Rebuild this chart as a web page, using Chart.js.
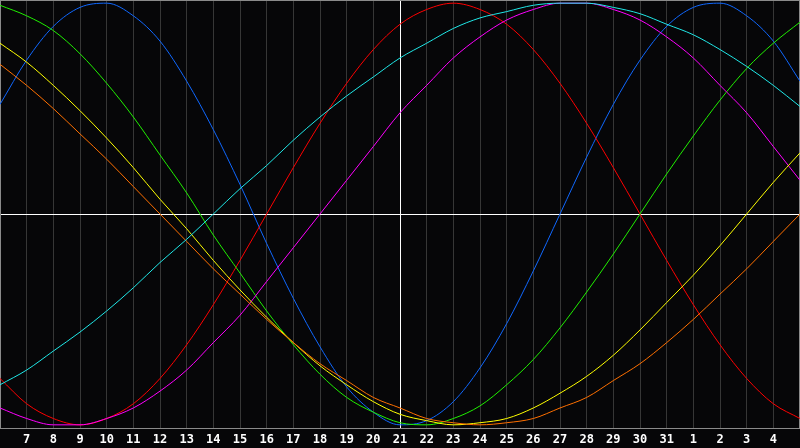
<!DOCTYPE html>
<html lang="en">
<head>
<meta name="viewport" content="width=device-width, initial-scale=1">
<title>Biorhythm</title>
<style>
html, body { margin: 0; padding: 0; background: #060608; }
#wrap { width: 800px; height: 448px; }
</style>
</head>
<body>
<div id="wrap">
<canvas id="canvas"></canvas>
</div>
<script src="https://cdn.jsdelivr.net/npm/chart.js"></script>
<script>

// days along the bottom, one per grid step (first and last are not labelled)
let DAYS = ["6", "7", "8", "9", "10", "11", "12", "13", "14", "15", "16", "17", "18", "19", "20",
            "21", "22", "23", "24", "25", "26", "27", "28", "29", "30", "31", "1", "2", "3", "4", "5"]

// cycle values in percent, one per day
let physical     = [52, 73, 89, 98, 100, 94, 82, 63, 40, 14, -14, -40, -63, -82, -94, -100, -98, -89, -73, -52, -27, 0, 27, 52, 73, 89, 98, 100, 94, 82, 63]
let emotional    = [-78, -90, -97, -100, -97, -90, -78, -62, -43, -22, 0, 22, 43, 62, 78, 90, 97, 100, 97, 90, 78, 62, 43, 22, 0, -22, -43, -62, -78, -90, -97]
let intellectual = [99, 94, 87, 76, 62, 46, 28, 10, -10, -28, -46, -62, -76, -87, -94, -99, -100, -97, -91, -81, -69, -54, -37, -19, 0, 19, 37, 54, 69, 81, 91]
let intuitive    = [-92, -97, -100, -100, -97, -92, -84, -74, -61, -48, -32, -16, 0, 16, 32, 48, 61, 74, 84, 92, 97, 100, 100, 97, 92, 84, 74, 61, 48, 32, 16]
let aesthetic    = [81, 72, 61, 49, 36, 22, 7, -7, -22, -36, -49, -61, -72, -81, -89, -95, -98, -100, -99, -97, -92, -85, -77, -67, -55, -42, -29, -15, 0, 15, 29]
let awareness    = [71, 61, 50, 38, 26, 13, 0, -13, -26, -38, -50, -61, -71, -79, -87, -92, -97, -99, -100, -99, -97, -92, -87, -79, -71, -61, -50, -38, -26, -13, 0]
let spiritual    = [-81, -74, -65, -56, -46, -35, -23, -12, 0, 12, 23, 35, 46, 56, 65, 74, 81, 88, 93, 96, 99, 100, 100, 98, 95, 90, 85, 78, 70, 61, 51]

let TODAY = 15

function series(data, color) {
    return {
        data: data,
        borderColor: color,
        borderWidth: 1,
        pointRadius: 0,
        cubicInterpolationMode: "monotone",
        fill: false,
    }
}

// gray frame round the plot
let frame = {
    id: "frame",
    beforeDatasetsDraw(chart) {
        let a = chart.chartArea
        let c = chart.ctx
        c.save()
        c.strokeStyle = "#8a8a8a"
        c.lineWidth = 1
        c.strokeRect(a.left + 0.5, a.top + 0.5, a.right - a.left - 1, a.bottom - a.top)
        c.restore()
    }
}

let ctx = document.getElementById("canvas")

let chart = new Chart(ctx, {
    type: "line",
    data: {
        labels: DAYS,
        datasets: [
            series(spiritual, "#20e8e8"),
            series(awareness, "#ff7000"),
            series(aesthetic, "#ffff00"),
            series(intuitive, "#ff00ff"),
            series(intellectual, "#20f000"),
            series(emotional, "#ff0000"),
            series(physical, "#1068ff"),
        ]
    },
    options: {
        responsive: true,
        maintainAspectRatio: false,
        animation: false,
        devicePixelRatio: 1,
        layout: { padding: 0 },
        plugins: {
            legend: { display: false },
            tooltip: { enabled: false },
        },
        scales: {
            x: {
                offset: false,
                afterFit: (s) => { s.paddingLeft = 0; s.paddingRight = 0; s.height = 20 },
                grid: {
                    drawTicks: false,
                    lineWidth: 1,
                    color: (c) => c.index === TODAY ? "#ffffff"
                        : (c.index === 0 || c.index === DAYS.length - 1) ? "rgba(0,0,0,0)" : "#363636",
                },
                border: { display: true, color: "#8a8a8a" },
                ticks: {
                    autoSkip: false,
                    maxRotation: 0,
                    padding: 5,
                    color: "#ffffff",
                    font: { family: "DejaVu Sans Mono", size: 12, weight: "bold" },
                    callback: (val, idx) => (idx === 0 || idx === DAYS.length - 1) ? "" : DAYS[idx],
                },
            },
            y: {
                min: -101.5,
                max: 101.5,
                afterFit: (s) => { s.width = 0; s.paddingTop = 0; s.paddingBottom = 0 },
                grid: {
                    drawTicks: false,
                    color: (c) => c.tick.value === 0 ? "#ffffff" : "rgba(0,0,0,0)",
                },
                border: { display: false },
                ticks: { display: false, stepSize: 50 },
            },
        },
    },
    plugins: [frame],
})

</script>
</body>
</html>
